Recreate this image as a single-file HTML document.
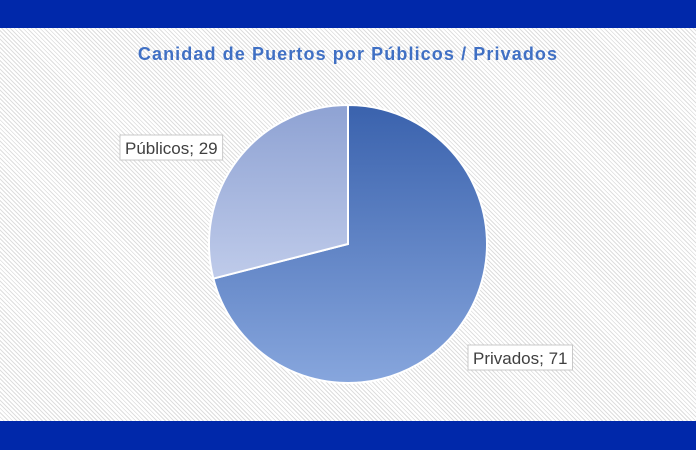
<!DOCTYPE html>
<html><head><meta charset="utf-8">
<style>
html,body{margin:0;padding:0;}
body{width:696px;height:450px;position:relative;overflow:hidden;font-family:"Liberation Sans","DejaVu Sans",sans-serif;
background:#fff repeating-linear-gradient(45deg,#ffffff 0px,#ffffff 2px,#dedede 2px,#dedede 3px);}
.bar{position:absolute;left:0;width:696px;background:#0028aa;}
</style></head>
<body>
<div class="bar" style="top:0;height:28px"></div>
<div class="bar" style="top:421px;height:29px"></div>
<svg id="chart" width="696" height="450" style="position:absolute;left:0;top:0">
<defs>
<linearGradient id="g0" x1="0" y1="0" x2="0" y2="1"><stop offset="0" stop-color="#3a62ad"/><stop offset="1" stop-color="#87a6dd"/></linearGradient>
<linearGradient id="g1" x1="0" y1="0" x2="0" y2="1"><stop offset="0" stop-color="#8ea2d3"/><stop offset="1" stop-color="#bfcbea"/></linearGradient>
</defs>
<text x="348" y="60" text-anchor="middle" font-size="18" font-weight="bold" fill="#4070c4" letter-spacing="1.1">Canidad de Puertos por Públicos / Privados</text>
</svg>
<script>
const categories=["Privados","Públicos"];
const values=[71,29];
const cx=348,cy=244,r=139;
const svg=document.getElementById('chart');
const NS='http://www.w3.org/2000/svg';
const total=values.reduce((a,b)=>a+b,0);
let start=0;
const fills=['url(#g0)','url(#g1)'];
const labelPos=[[468,345],[120,135]];
values.forEach((v,i)=>{
  const a0=start/total*2*Math.PI, a1=(start+v)/total*2*Math.PI;
  start+=v;
  const x0=cx+r*Math.sin(a0),y0=cy-r*Math.cos(a0),x1=cx+r*Math.sin(a1),y1=cy-r*Math.cos(a1);
  const large=(a1-a0)>Math.PI?1:0;
  const p=document.createElementNS(NS,'path');
  p.setAttribute('d',`M${cx},${cy}L${x0},${y0}A${r},${r} 0 ${large} 1 ${x1},${y1}Z`);
  p.setAttribute('fill',fills[i]);p.setAttribute('stroke','#fff');p.setAttribute('stroke-width','2');
  
  
  svg.appendChild(p);
  const txt=categories[i]+'; '+v;
  const [lx,ly]=labelPos[i];
  const g=document.createElementNS(NS,'g');
  
  
  const t=document.createElementNS(NS,'text');
  t.setAttribute('x',lx+5);t.setAttribute('y',ly+19);t.setAttribute('font-size','17');t.setAttribute('fill','#404040');
  t.textContent=txt;
  g.appendChild(t);
  svg.appendChild(g);
  const w=t.getComputedTextLength()+10;
  const rc=document.createElementNS(NS,'rect');
  rc.setAttribute('x',lx);rc.setAttribute('y',ly);rc.setAttribute('width',w);rc.setAttribute('height',25);
  rc.setAttribute('fill','#fff');rc.setAttribute('stroke','#c8c8c8');
  g.insertBefore(rc,t);
});
</script>
</body></html>
